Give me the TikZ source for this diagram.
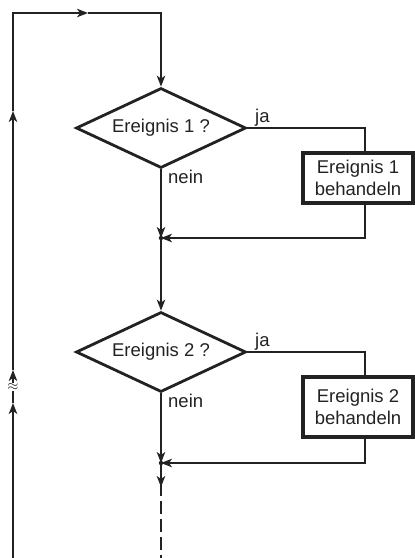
\documentclass[tikz,border=0pt]{standalone}
\usepackage{fontspec}
\setmainfont{Liberation Sans}
\usetikzlibrary{shapes.geometric,arrows.meta}
\definecolor{ink}{HTML}{222222}
\begin{document}
\begin{tikzpicture}[x=1pt,y=-1pt,
  flowtip/.tip={Stealth[length=11pt,width=8.5pt,inset=3pt]},
  flow/.style={line width=1.5pt, draw=ink},
  txt/.style={font=\fontsize{18.5}{21.5}\selectfont, text=ink},
  decision/.style={diamond, draw=ink, line width=2.8pt, minimum width=170pt,
    minimum height=80pt, aspect=2.125, inner sep=0pt, txt},
  action/.style={rectangle, draw=ink, line width=3.2pt, minimum width=110pt,
    align=center, inner sep=0pt, txt},
  lbl/.style={txt, inner sep=0pt, anchor=base west},
  dot/.style={circle, fill=ink, inner sep=0pt, minimum size=4.5pt}
]
\useasboundingbox (0,0) rectangle (415,558);

% decisions and actions
\node[decision] (d1) at (161,128) {Ereignis 1 ?};
\node[action, minimum height=50pt] (b1) at (358,178) {Ereignis 1\\behandeln};
\node[decision] (d2) at (161,352) {Ereignis 2 ?};
\node[action, minimum height=60pt] (b2) at (358,407) {Ereignis 2\\behandeln};

% helper points
\coordinate (s0) at (13,558);
\coordinate (a1) at (13,403);
\coordinate (a2) at (13,370);
\coordinate (a3) at (13,111);
\coordinate (c1) at (13,13);
\coordinate (a4) at (88,13);
\coordinate (c2) at (161,13);
\coordinate (y1) at (365,128);
\coordinate (r1) at (365,238);
\coordinate (j1) at (161,238);
\coordinate (y2) at (365,352);
\coordinate (r2) at (365,463);
\coordinate (j2) at (161,463);
\coordinate (e2) at (161,487);
\coordinate (e3) at (161,558);

% loop back on the left
\draw[flow,-{flowtip}] (s0) -- (a1);
\draw[flow,-{flowtip}] (a1) -- (a2);
\draw[flow,-{flowtip}] (a2) -- (a3);
\draw[flow,-{flowtip}] (a3) -- (c1) -- (a4);
\draw[flow,-{flowtip}] (a4) -- (c2) -- (d1.north);
\node[fill=white, inner sep=0.3pt, font=\fontsize{15}{15}\selectfont, text=ink] (brk) at (13,387) {$\approx$};

% first event
\draw[flow] (d1.east) -- (y1) -- (b1.north -| y1);
\draw[flow,-{flowtip}] (b1.south -| y1) -- (r1) -- (j1);
\draw[flow,-{flowtip}] (d1.south) -- (j1);
\draw[flow,-{flowtip}] (j1) -- (d2.north);
\node[dot] at (j1) {};
\node[lbl] (ja1) at (255,122) {ja};
\node[lbl] (nein1) at (168,183) {nein};

% second event
\draw[flow] (d2.east) -- (y2) -- (b2.north -| y2);
\draw[flow,-{flowtip}] (b2.south -| y2) -- (r2) -- (j2);
\draw[flow,-{flowtip}] (d2.south) -- (j2);
\draw[flow,-{flowtip}] (j2) -- (e2);
\draw[flow, dash pattern=on 13pt off 5pt] ([yshift=4pt]e2) -- (e3);
\node[dot] at (j2) {};
\node[lbl] (ja2) at (255,346) {ja};
\node[lbl] (nein2) at (168,407) {nein};
\end{tikzpicture}
\end{document}
